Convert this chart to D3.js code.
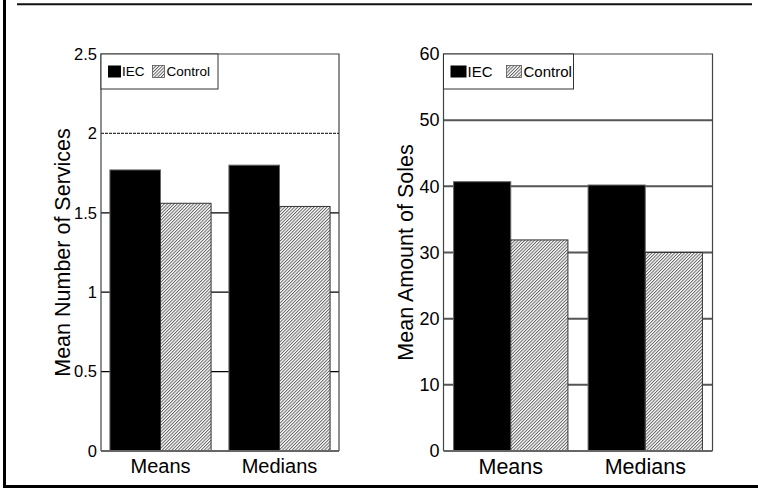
<!DOCTYPE html>
<html><head><meta charset="utf-8">
<script src="https://cdn.jsdelivr.net/npm/d3@7"></script>
<style>body{margin:0;background:#fff}svg{display:block;font-family:"Liberation Sans",Arial,Helvetica,sans-serif}</style>
</head><body><svg id="c" width="758" height="489"></svg>
<script>
const groups = ["Means", "Medians"];
const seriesNames = ["IEC", "Control"];
const servicesIEC = [1.77, 1.80];
const servicesControl = [1.56, 1.54];
const servicesTicks = [0, 0.5, 1, 1.5, 2, 2.5];
const servicesTickLabels = ["0", "0.5", "1", "1.5", "2", "2.5"];
const solesIEC = [40.7, 40.2];
const solesControl = [31.9, 30.0];
const solesTicks = [0, 10, 20, 30, 40, 50, 60];
const solesTickLabels = ["0", "10", "20", "30", "40", "50", "60"];

const svg = d3.select("#c");
const defs = svg.append("defs");
const P = 2.3;
const pat = defs.append("pattern").attr("id","hatch").attr("patternUnits","userSpaceOnUse")
  .attr("width",P).attr("height",P).attr("patternTransform","rotate(45)");
pat.append("rect").attr("width",P).attr("height",P).attr("fill","#fff");
pat.append("line").attr("x1",0.5).attr("x2",0.5).attr("y1",0).attr("y2",P).attr("stroke","#555").attr("stroke-width",0.9);

// outer frame
svg.append("line").attr("x1",4.5).attr("x2",4.5).attr("y1",0).attr("y2",488).attr("stroke","#000").attr("stroke-width",3);
svg.append("line").attr("x1",17).attr("x2",752).attr("y1",4.2).attr("y2",4.2).attr("stroke","#111").attr("stroke-width",2);
svg.append("line").attr("x1",3).attr("x2",758).attr("y1",486.5).attr("y2",486.5).attr("stroke","#000").attr("stroke-width",3);

function chart(cfg){
  const {x0,x1,y0,y1,max,ticks,tickLabels,iec,ctrl,title,titleX,tickFont,xFont,titleFont,legW,legFont,gridStyle,sq,gap} = cfg;
  const g = svg.append("g");
  const y = d3.scaleLinear().domain([0,max]).range([y1,y0]);
  const x = d3.scaleBand().domain(groups).range([x0,x1]).paddingInner(0.15).paddingOuter(0.075);
  const xs = d3.scaleBand().domain(seriesNames).range([0,x.bandwidth()]);
  ticks.forEach((t,i)=>{
    if(t===0||t===max) return;
    const st = gridStyle(t);
    g.append("line").attr("x1",x0).attr("x2",x1).attr("y1",y(t)).attr("y2",y(t))
      .attr("stroke",st.c).attr("stroke-width",st.w).attr("stroke-dasharray",st.d||null);
  });
  g.append("path").attr("d",`M${x0},${y1}V${y0}H${x1}V${y1}`).attr("fill","none").attr("stroke","#444").attr("stroke-width",1.2);
  const data = [];
  groups.forEach((gr,i)=>{ data.push({g:gr,s:"IEC",v:iec[i]}); data.push({g:gr,s:"Control",v:ctrl[i]}); });
  g.selectAll("rect.bar").data(data).join("rect").attr("class","bar")
    .attr("x",d=>x(d.g)+xs(d.s)).attr("width",xs.bandwidth())
    .attr("y",d=>y(d.v)).attr("height",d=>y(0)-y(d.v))
    .attr("fill",d=>d.s==="IEC"?"#000":"url(#hatch)")
    .attr("stroke",d=>d.s==="IEC"?"#666":"#333").attr("stroke-width",1);
  g.append("line").attr("x1",x0).attr("x2",x1).attr("y1",y1).attr("y2",y1).attr("stroke","#666").attr("stroke-width",2);
  const ax = d3.axisLeft(y).tickValues(ticks).tickFormat((d,i)=>tickLabels[i]).tickSize(0).tickPadding(4);
  const ag = g.append("g").attr("transform",`translate(${x0},0)`).call(ax);
  ag.select(".domain").remove();
  ag.selectAll("text").attr("font-size",tickFont).attr("fill","#000").attr("font-family","Liberation Sans, Arial, sans-serif");
  const xa = d3.axisBottom(x).tickSize(0).tickPadding(8);
  const xg = g.append("g").attr("transform",`translate(0,${y1})`).call(xa);
  xg.select(".domain").remove();
  xg.selectAll("text").attr("font-size",xFont).attr("fill","#000").attr("font-family","Liberation Sans, Arial, sans-serif");
  g.append("text").attr("transform",`translate(${titleX},${(y0+y1)/2}) rotate(-90)`).attr("text-anchor","middle")
    .attr("dominant-baseline","central").attr("font-size",titleFont).text(title);
  const lg = g.append("g");
  lg.append("rect").attr("x",x0).attr("y",y0).attr("width",legW).attr("height",35).attr("fill","#fff").attr("stroke","#333").attr("stroke-width",1);
  const ly = y0+17.5;
  lg.append("rect").attr("x",x0+7).attr("y",ly-6).attr("width",sq).attr("height",12).attr("fill","#000");
  const t1 = lg.append("text").attr("x",x0+8+sq).attr("y",ly).attr("dominant-baseline","central").attr("font-size",legFont).text(seriesNames[0]);
  const w1 = t1.node().getComputedTextLength();
  const hx = x0+8+sq+w1+gap;
  lg.append("rect").attr("x",hx).attr("y",ly-6).attr("width",sq-1).attr("height",12).attr("fill","url(#hatch)").attr("stroke","#555").attr("stroke-width",0.8);
  lg.append("text").attr("x",hx+sq+1).attr("y",ly).attr("dominant-baseline","central").attr("font-size",legFont).text(seriesNames[1]);
}

chart({x0:101,x1:339,y0:54,y1:451,max:2.5,ticks:servicesTicks,tickLabels:servicesTickLabels,iec:servicesIEC,ctrl:servicesControl,
  title:"Mean Number of Services",titleX:63,tickFont:16.5,xFont:20,titleFont:21.5,legW:117,legFont:13.5,sq:13,gap:8,
  gridStyle:t=>t===2?{c:"#333",w:1.2,d:"3,1"}:{c:"#000",w:1.2}});
chart({x0:443.5,x1:712.5,y0:54,y1:451,max:60,ticks:solesTicks,tickLabels:solesTickLabels,iec:solesIEC,ctrl:solesControl,
  title:"Mean Amount of Soles",titleX:406,tickFont:18,xFont:21.5,titleFont:21.5,legW:130,legFont:15,sq:16,gap:14,
  gridStyle:t=>({c:"#555",w:2})});
</script></body></html>
